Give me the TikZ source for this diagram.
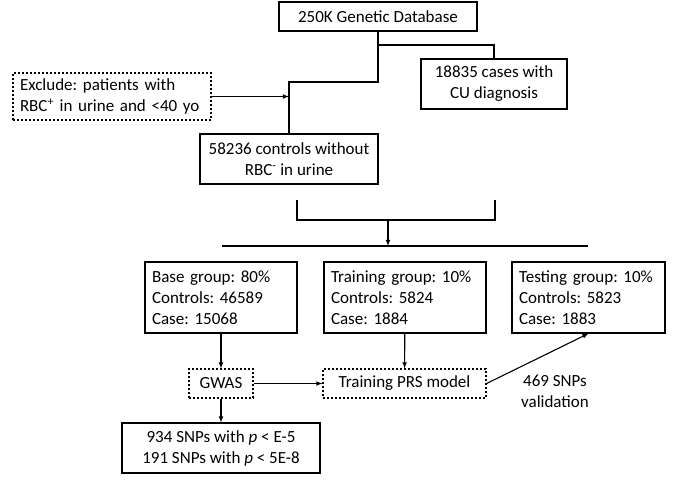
\documentclass[tikz,border=0pt]{standalone}
\usepackage{fontspec}
\setmainfont{Carlito}
\usetikzlibrary{arrows}
\frenchspacing

\begin{document}
\begin{tikzpicture}[x=1pt, y=-1pt, line width=1.1pt, >=latex,
  every node/.style={font=\fontsize{17}{21}\selectfont},
  box/.style={draw, align=center, inner sep=0pt},
  dbox/.style={box, dash pattern=on 2pt off 2pt},
  grp/.style={draw, align=left, inner xsep=7pt, inner ysep=0pt, minimum height=71pt}]
\useasboundingbox (0,0) rectangle (685,483);
\node[box, minimum width=198pt, minimum height=29pt] (db) at (378,16.5) {250K Genetic Database};
\node[box, minimum width=146pt, minimum height=50pt] (cu) at (494,84) {18835 cases with\\CU diagnosis};
\node[dbox, align=left, text width=184pt, inner xsep=7pt, minimum height=47pt] (excl) at (112,96.5) {Exclude: patients with\\RBC\textsuperscript{+} in urine and <40 yo};
\node[box, minimum width=178pt, minimum height=50pt] (ctrl) at (289,159) {58236 controls without\\RBC\textsuperscript{-} in urine};
\node[grp, text width=138pt] (base) at (221,297.5) {Base group: 80\%\\Controls: 46589\\Case: 15068};
\node[grp, text width=148pt] (train) at (405,297.5) {Training group: 10\%\\Controls: 5824\\Case: 1884};
\node[grp, text width=139pt] (test) at (588.5,297.5) {Testing group: 10\%\\Controls: 5823\\Case: 1883};
\node[dbox, minimum width=64pt, minimum height=29pt] (gwas) at (221,383.5) {GWAS};
\node[dbox, minimum width=163pt, minimum height=29pt] (prs) at (404.5,383.5) {Training PRS model};
\node[box, minimum width=198pt, minimum height=50pt] (snps) at (221,448) {934 SNPs with \textit{p} < E-5\\191 SNPs with \textit{p} < 5E-8};
\node[align=center] (val) at (555,391) {469 SNPs\\validation};
\coordinate (j1) at (378,82);
\coordinate (j2) at (378,45);
\coordinate (bl) at (297,200);
\coordinate (br) at (495,200);
\coordinate (bm) at (388,220);
\coordinate (split) at (388,246);
\coordinate (sl) at (222,246);
\coordinate (sr) at (588,246);
\draw (db) -- (j1) -| (ctrl);
\draw (j2) -| (cu);
\draw[->] (excl.east) -- (excl.east -| ctrl.north);
\draw (bl) -- ++(0,20) -| (br);
\draw[->] (bm) -- (split);
\draw (sl) -- (sr);
\draw[->] (base) -- (gwas);
\draw[->] (train) -- (prs);
\draw[->] (gwas) -- (prs);
\draw[->] (gwas) -- (snps);
\draw[->] (prs.east) -- (test.south);
\end{tikzpicture}
\end{document}
